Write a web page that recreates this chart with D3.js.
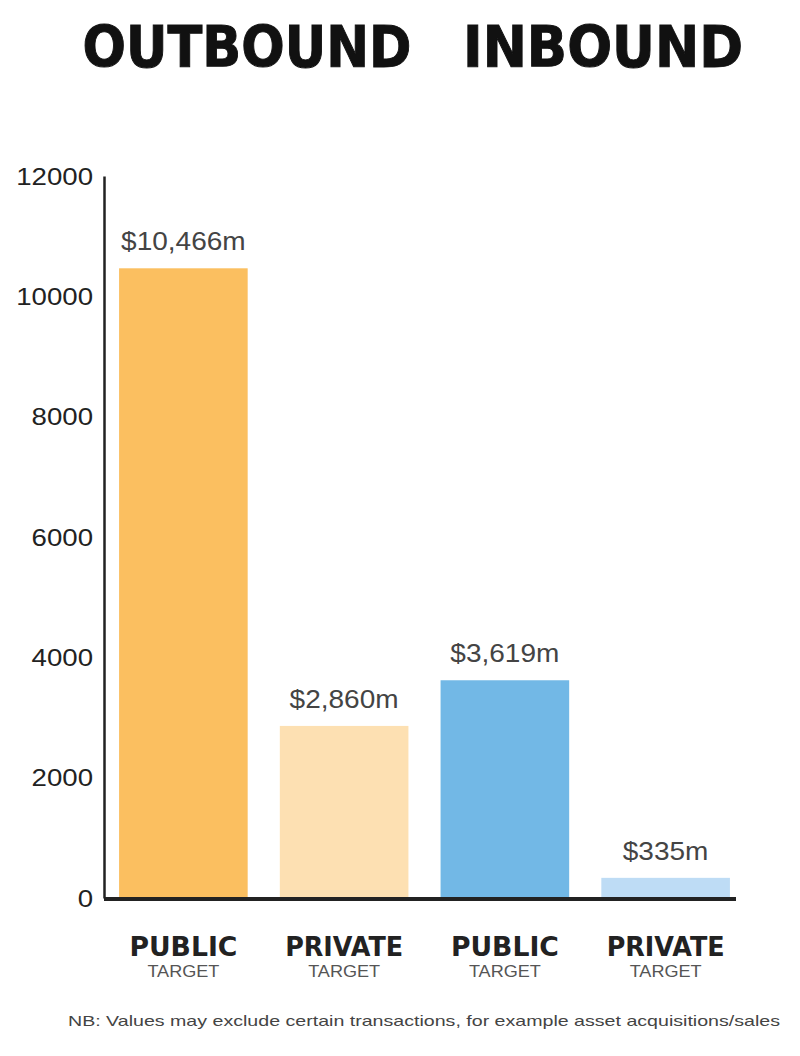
<!DOCTYPE html>
<html><head><meta charset="utf-8">
<script src="https://cdn.jsdelivr.net/npm/d3@7"></script>
<style>body{margin:0;background:#fff}</style>
</head><body>
<script>
const categories = ["PUBLIC", "PRIVATE", "PUBLIC", "PRIVATE"];
const subLabels = ["TARGET", "TARGET", "TARGET", "TARGET"];
const values = [10466, 2860, 3619, 335];
const valueLabels = ["$10,466m", "$2,860m", "$3,619m", "$335m"];
const barColors = ["#FBBF60", "#FDE0B2", "#72B8E6", "#BEDCF5"];
const groupTitles = ["OUTBOUND", "INBOUND"];
const yTicks = [0, 2000, 4000, 6000, 8000, 10000, 12000];
const footnote = "NB: Values may exclude certain transactions, for example asset acquisitions/sales";

const W = 800, H = 1056;
const svg = d3.select("body").append("svg").attr("width", W).attr("height", H);

const y = d3.scaleLinear().domain([0, 12000]).range([898, 176]);
const x = d3.scaleBand().domain(d3.range(values.length)).range([103, 746]).paddingInner(0.2).paddingOuter(0.1);

function stretch(sel, f) {
  sel.each(function () {
    const w = this.getComputedTextLength();
    d3.select(this).attr("textLength", w * f).attr("lengthAdjust", "spacingAndGlyphs");
  });
}

// titles
const titleX = [247, 603];
svg.selectAll("text.title").data(groupTitles).join("text")
  .attr("x", (d, i) => titleX[i]).attr("y", 67)
  .attr("text-anchor", "middle")
  .attr("font-family", "'DejaVu Sans', sans-serif")
  .attr("font-weight", "bold").attr("font-size", 57)
  .attr("fill", "#111").attr("stroke", "#111").attr("stroke-width", 1)
  .attr("textLength", (d, i) => i === 0 ? 329 : 280)
  .attr("lengthAdjust", "spacingAndGlyphs")
  .text(d => d);

// y axis
const yAxis = d3.axisLeft(y).tickValues(yTicks).tickSize(0).tickPadding(11).tickFormat(d3.format("d"));
const ga = svg.append("g").attr("transform", "translate(104,0)").call(yAxis);
ga.select(".domain").attr("stroke", "#222").attr("stroke-width", 2.5);
ga.selectAll("text").attr("font-family", "'Liberation Sans', sans-serif")
  .attr("font-size", 23).attr("fill", "#222").attr("dy", "0.36em");
stretch(ga.selectAll("text"), 1.2);

// bars
svg.selectAll("rect.bar").data(values).join("rect")
  .attr("x", (d, i) => x(i)).attr("width", x.bandwidth())
  .attr("y", d => y(d)).attr("height", d => y(0) - y(d))
  .attr("fill", (d, i) => barColors[i]);

// baseline
svg.append("line").attr("x1", 104).attr("x2", 736).attr("y1", y(0) + 1).attr("y2", y(0) + 1)
  .attr("stroke", "#222").attr("stroke-width", 4);

// value labels
const vl = svg.selectAll("text.val").data(values).join("text")
  .attr("x", (d, i) => x(i) + x.bandwidth() / 2).attr("y", d => y(d) - 18)
  .attr("text-anchor", "middle")
  .attr("font-family", "'Liberation Sans', sans-serif")
  .attr("font-size", 25).attr("fill", "#444")
  .text((d, i) => valueLabels[i]);
stretch(vl, 1.12);

// category labels
svg.selectAll("text.cat").data(categories).join("text")
  .attr("x", (d, i) => x(i) + x.bandwidth() / 2).attr("y", 956)
  .attr("text-anchor", "middle")
  .attr("font-family", "'DejaVu Sans', sans-serif")
  .attr("font-weight", "bold").attr("font-size", 26).attr("fill", "#222")
  .attr("textLength", d => d === "PUBLIC" ? 108 : 118)
  .attr("lengthAdjust", "spacingAndGlyphs")
  .text(d => d);
svg.selectAll("text.sub").data(subLabels).join("text")
  .attr("x", (d, i) => x(i) + x.bandwidth() / 2).attr("y", 977)
  .attr("text-anchor", "middle")
  .attr("font-family", "'Liberation Sans', sans-serif")
  .attr("font-size", 16).attr("fill", "#555")
  .attr("textLength", 72).attr("lengthAdjust", "spacingAndGlyphs")
  .text(d => d);

// footnote
svg.append("text").attr("x", 68).attr("y", 1026)
  .attr("font-family", "'Liberation Sans', sans-serif")
  .attr("font-size", 15).attr("fill", "#444")
  .attr("textLength", 712).attr("lengthAdjust", "spacingAndGlyphs")
  .text(footnote);
</script>
</body></html>
